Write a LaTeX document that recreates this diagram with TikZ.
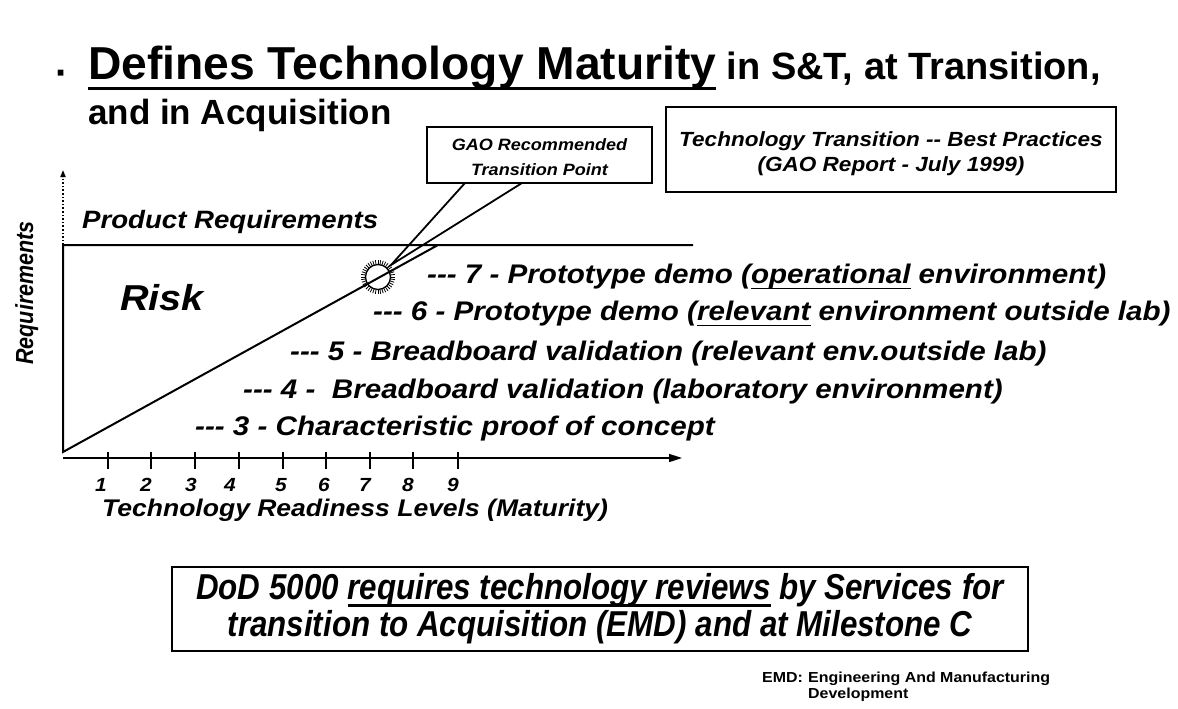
\documentclass[tikz,border=0pt]{standalone}
\usepackage{fontspec}
\setmainfont{Liberation Sans}
\newfontfamily\wfont{Liberation Sans}[FakeStretch=1.1]
\newfontfamily\nfont{Liberation Sans}[FakeStretch=0.87]
\usetikzlibrary{arrows.meta}
\newcommand\myul[3]{\setbox0\hbox{#3}\rlap{\rule[-#1]{\wd0}{#2}}\box0\relax}
\begin{document}
\begin{tikzpicture}[x=1pt,y=-1pt,
  line/.style={line width=2pt},
  boxline/.style={draw, line width=2.4pt, inner sep=0pt},
  boxtext/.style={inner sep=0pt, align=center},
  trl/.style={anchor=base west, inner sep=0pt, font=\wfont\bfseries\itshape\fontsize{26.9}{30}\selectfont},
  lbl/.style={anchor=base west, inner sep=0pt, font=\wfont\bfseries\itshape\fontsize{25.1}{28}\selectfont},
  digit/.style={anchor=center, inner sep=0pt, font=\wfont\bfseries\itshape\fontsize{19}{21}\selectfont},
  ttl/.style={anchor=base west, inner sep=0pt, font=\bfseries},
  foot/.style={anchor=base west, inner sep=0pt, font=\wfont\bfseries\fontsize{14.5}{16}\selectfont}
]
\useasboundingbox (0,0) rectangle (1178,709);

% title
\node[ttl] (bullet) at (55,87) {\fontsize{40}{44}\selectfont\textperiodcentered};
\node[ttl] (t1) at (88,80) {\fontsize{46.2}{50}\selectfont\myul{0.22em}{0.075em}{Defines Technology Maturity}\fontsize{38}{40}\selectfont\ in S\&T, at Transition,};
\node[ttl] (t2) at (88,124) {\fontsize{35}{40}\selectfont and in Acquisition};

% axes and frame
\coordinate (O) at (63,452);
\coordinate (T) at (63,245);
\coordinate (Tup) at (63,170);
\coordinate (PRend) at (693,245);
\coordinate (C) at (378,277);
\coordinate (D) at (438,245);
\coordinate (A0) at (63,458);
\coordinate (A1) at (682,458);
\draw[line] (PRend) -- (T) -- (O) -- (D);
\draw[line width=1.6pt, dotted, -{Triangle[length=7pt,width=5pt]}] (T) -- (Tup);
\draw[line width=1.6pt, -{Triangle[length=13pt,width=8pt]}] (A0) -- (A1);
\foreach \x in {108,151,195,239,283,326,370,413,458}
  \draw[line width=1.2pt] (\x,452) -- (\x,469);
\foreach \x/\n in {101/1,146/2,191/3,230/4,281/5,324/6,365/7,408/8,453/9}
  \node[digit] (d\n) at (\x,485) {\n};

% starburst
\draw[line width=1.3pt] (C) circle[radius=12.5];
\foreach \a in {0,9,...,351}
  \draw[line width=0.8pt] (C) ++(\a:12.5) -- ++(\a:4.5);

% labels
\node[lbl] (pr) at (82,228) {Product Requirements};
\node[anchor=base west, inner sep=0pt, font=\wfont\bfseries\itshape\fontsize{36}{40}\selectfont] (risk) at (120,310) {Risk};
\node[anchor=base, rotate=90, inner sep=0pt, font=\bfseries\itshape\fontsize{21.5}{24}\selectfont] (req) at (33,293) {\scalebox{1}[1.15]{Requirements}};
\node[lbl, font=\wfont\bfseries\itshape\fontsize{24.1}{28}\selectfont] (trlax) at (102,516) {Technology Readiness Levels (Maturity)};

% TRL lines
\node[trl] (l7) at (427,283) {-{}-{}- 7 - Prototype demo (\myul{0.24em}{0.07em}{operational} environment)};
\node[trl] (l6) at (373,320) {-{}-{}- 6 - Prototype demo (\myul{0.24em}{0.07em}{relevant} environment outside lab)};
\node[trl] (l5) at (290,360) {-{}-{}- 5 - Breadboard validation (relevant env.outside lab)};
\node[trl] (l4) at (243,398) {-{}-{}- 4 - \ Breadboard validation (laboratory environment)};
\node[trl] (l3) at (195,435) {-{}-{}- 3 - Characteristic proof of concept};

% GAO callout
\node[boxline, minimum width=225pt, minimum height=56pt] (gao) at (539.5,155) {};
\node[boxtext, font=\wfont\bfseries\itshape\fontsize{16.4}{25}\selectfont] (gaot) at (539.5,157) {GAO Recommended\\Transition Point};
\coordinate (p1) at (465,183);
\coordinate (p2) at (522,183);
\coordinate (tip) at (391,265);
\draw[line width=1.8pt] (p1) -- (tip) -- (p2);

% GAO report box
\node[boxline, minimum width=450pt, minimum height=85pt] (rep) at (891,149.5) {};
\node[boxtext, font=\wfont\bfseries\itshape\fontsize{20.5}{25}\selectfont] (rept) at (891,154) {Technology Transition -{}- Best Practices\\(GAO Report - July 1999)};

% DoD box
\node[boxline, minimum width=856pt, minimum height=84pt] (dod) at (600,609) {};
\node[boxtext, font=\nfont\bfseries\itshape\fontsize{36}{37}\selectfont] (dodt) at (600,609)
  {DoD 5000 \myul{0.2em}{0.075em}{requires technology reviews} by Services for\\transition to Acquisition (EMD) and at Milestone C};

% footnote
\node[foot] (emd) at (762,682) {EMD:};
\node[foot] (emd1) at (808,682) {Engineering And Manufacturing};
\node[foot] (emd2) at (808,698) {Development};
\end{tikzpicture}
\end{document}
